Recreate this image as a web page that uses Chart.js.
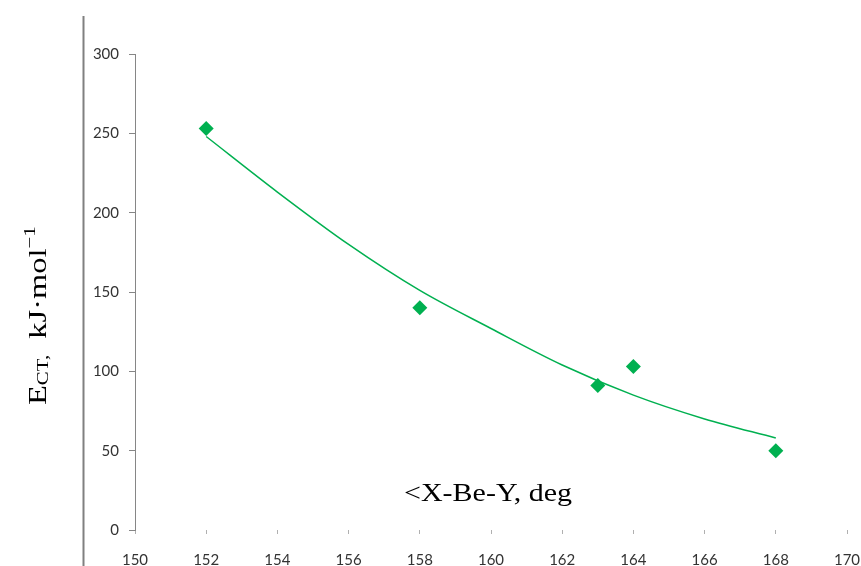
<!DOCTYPE html>
<html>
<head>
<meta charset="utf-8">
<script src="https://cdn.jsdelivr.net/npm/chart.js@4.4.1/dist/chart.umd.min.js"></script>
<style>
  html, body { margin: 0; padding: 0; background: #fff; }
  #wrap { width: 861px; height: 566px; position: relative; }
</style>
</head>
<body>
<div id="wrap"><canvas id="chart"></canvas></div>
<script>
// measured points: angle X-Be-Y (deg) vs charge-transfer energy
const angles = [152, 158, 163, 164, 168];
const energies = [253, 140, 91, 103, 50];

// trendline
const trendAngles = [152, 154, 156, 158, 160, 162, 164, 166, 168];
const trendEnergies = [248, 213, 180, 151, 127, 104, 85, 70, 58];

const xTicks = [150, 152, 154, 156, 158, 160, 162, 164, 166, 168, 170];
const yTicks = [0, 50, 100, 150, 200, 250, 300];

const xTitle = '<X-Be-Y, deg';
// [text, font size, baseline shift]
const yTitleParts = [
  ['E', 25, 0],
  ['CT,', 16, 2],
  ['  ', 25, 0],
  ['kJ\u00B7mol', 25, 0],
  ['\u22121', 16, -11],
];

const green = '#00B050';
const axisGray = '#868686';
const tickFont = { family: "Lato, 'Open Sans', sans-serif", size: 15 };

const titles = {
  id: 'titles',
  afterDraw(chart) {
    const { ctx } = chart;
    ctx.save();
    // left frame line
    ctx.strokeStyle = '#808080';
    ctx.lineWidth = 2;
    ctx.beginPath();
    ctx.moveTo(83.5, 16);
    ctx.lineTo(83.5, chart.height);
    ctx.stroke();

    ctx.fillStyle = '#000';
    ctx.textBaseline = 'alphabetic';

    // x title, sits inside the plot above the ticks
    ctx.save();
    ctx.font = '25px "Liberation Serif", "Times New Roman", serif';
    ctx.translate(488, 501);
    ctx.scale(1.2, 1);
    ctx.textAlign = 'center';
    ctx.fillText(xTitle, 0, 0);
    ctx.restore();

    // y title, rotated
    ctx.save();
    ctx.translate(46, 405);
    ctx.rotate(-Math.PI / 2);
    ctx.scale(1.3, 1);
    ctx.textAlign = 'left';
    let x = 0;
    for (const [txt, size, dy] of yTitleParts) {
      ctx.font = size + 'px "Liberation Serif", "Times New Roman", serif';
      ctx.fillText(txt, x, dy);
      x += ctx.measureText(txt).width;
    }
    ctx.restore();

    ctx.restore();
  }
};

new Chart(document.getElementById('chart'), {
  type: 'scatter',
  data: {
    datasets: [
      {
        label: 'trend',
        data: trendAngles.map((a, i) => ({ x: a, y: trendEnergies[i] })),
        showLine: true,
        borderColor: green,
        borderWidth: 1.5,
        pointRadius: 0,
        cubicInterpolationMode: 'monotone',
        order: 2,
      },
      {
        label: 'E_CT',
        data: angles.map((a, i) => ({ x: a, y: energies[i] })),
        pointStyle: 'rectRot',
        pointRadius: 7.5,
        backgroundColor: green,
        borderColor: green,
        borderWidth: 0,
        order: 1,
      },
    ],
  },
  options: {
    responsive: true,
    maintainAspectRatio: false,
    animation: false,
    layout: { padding: { top: 54, right: 14, left: 0, bottom: 0 } },
    plugins: {
      legend: { display: false },
      tooltip: { enabled: false },
    },
    scales: {
      x: {
        type: 'linear',
        min: xTicks[0],
        max: xTicks[xTicks.length - 1],
        afterBuildTicks: (s) => { s.ticks = xTicks.map(v => ({ value: v })); },
        afterFit: (s) => { s.height = 36; s.paddingLeft = 0; s.paddingRight = 0; },
        border: { display: false },
        grid: { drawOnChartArea: false, tickLength: 4, color: '#b0b0b0' },
        ticks: { font: tickFont, color: '#333', padding: 17, maxRotation: 0 },
      },
      y: {
        type: 'linear',
        min: yTicks[0],
        max: yTicks[yTicks.length - 1],
        afterBuildTicks: (s) => { s.ticks = yTicks.map(v => ({ value: v })); },
        afterFit: (s) => { s.width = 135; s.paddingTop = 0; s.paddingBottom = 0; },
        border: { display: true, color: axisGray, width: 1 },
        grid: { drawOnChartArea: false, tickLength: 6, color: axisGray },
        ticks: { font: tickFont, color: '#333', padding: 10 },
      },
    },
  },
  plugins: [titles],
});
</script>
</body>
</html>
